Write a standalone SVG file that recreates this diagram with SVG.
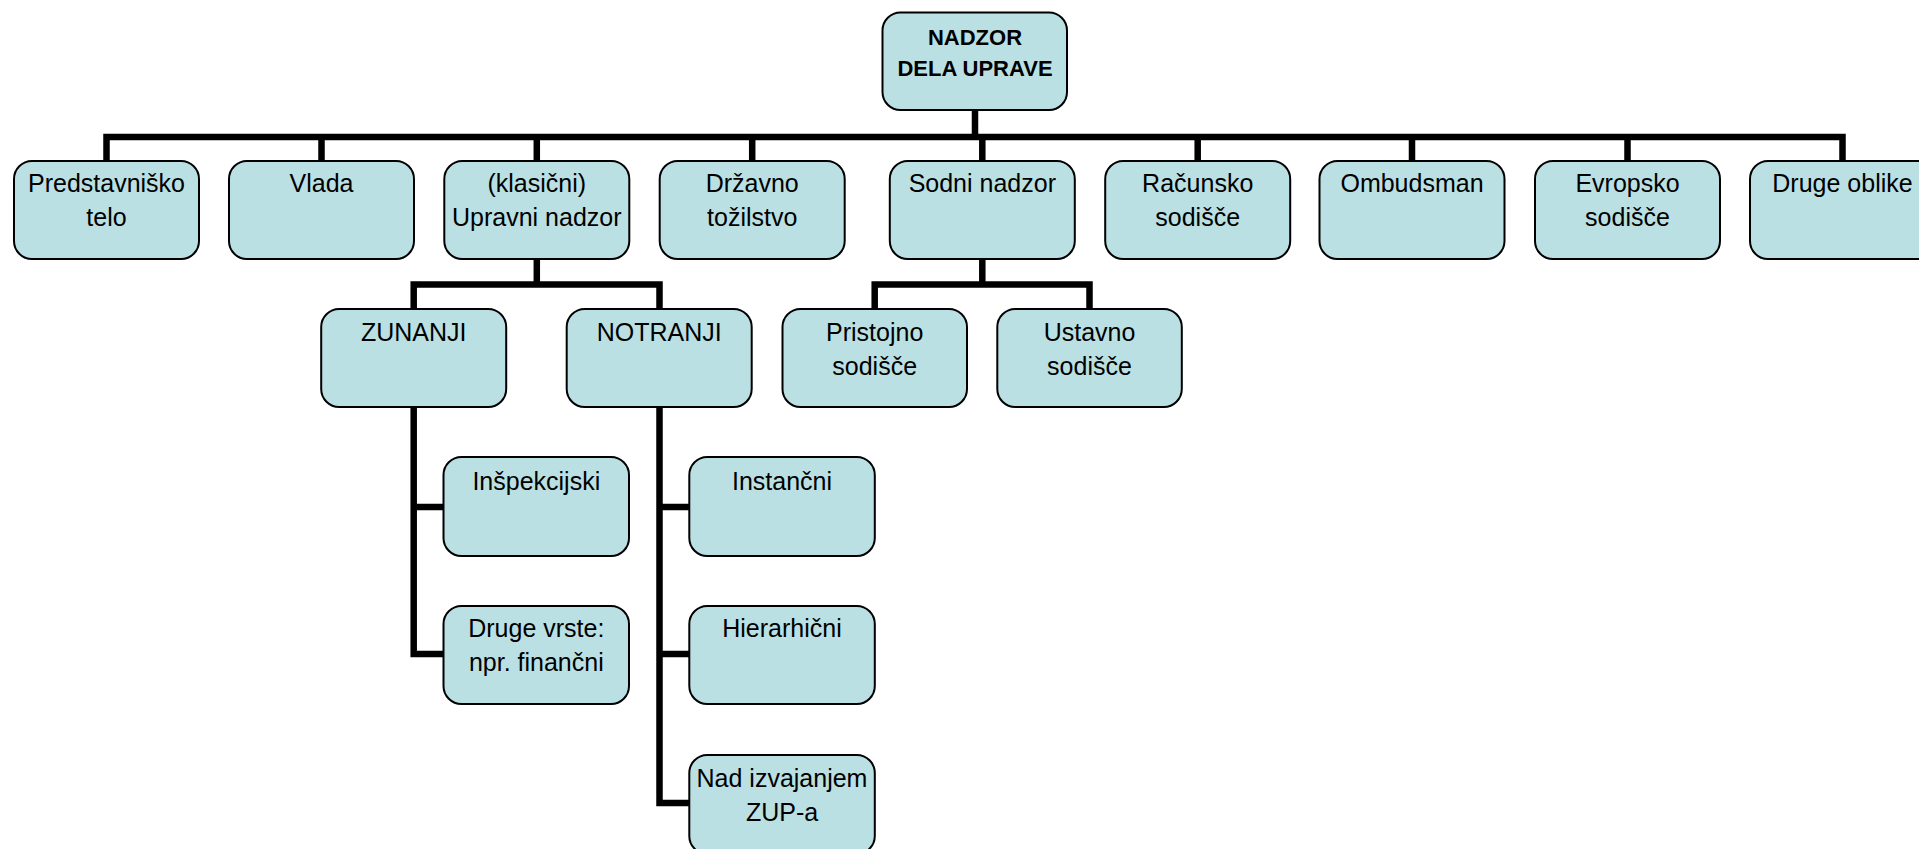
<svg xmlns="http://www.w3.org/2000/svg" width="1919" height="849" viewBox="0 0 1919 849">
<style>
.box{fill:#bbe0e3;stroke:#000;stroke-width:2}
.t{font-family:"Comic Sans MS","Liberation Sans",sans-serif;font-size:25px;fill:#000;text-anchor:middle}
.tb{font-family:"Comic Sans MS","Liberation Sans",sans-serif;font-size:22px;font-weight:bold;fill:#000;text-anchor:middle}
.c{fill:none;stroke:#000;stroke-width:6.5;stroke-linejoin:miter;stroke-linecap:butt}
</style>
<rect width="1919" height="849" fill="#fff"/>
<g id="connectors">
<path class="c" d="M975,110 V137"/>
<path class="c" d="M106.5,161 V137 H1842.5 V161"/>
<path class="c" d="M321.5,137 V161 M536.8,137 V161 M752.2,137 V161 M982.3,137 V161 M1197.7,137 V161 M1412,137 V161 M1627.5,137 V161"/>
<path class="c" d="M536.8,259 V284.5"/>
<path class="c" d="M413.7,309 V284.5 H659.5 V309"/>
<path class="c" d="M982.3,259 V284.5"/>
<path class="c" d="M874.7,309 V284.5 H1089.5 V309"/>
<path class="c" d="M413.7,407 V654 H443.5 M413.7,507 H443.5"/>
<path class="c" d="M659.5,407 V803 H689.3 M659.5,507 H689.3 M659.5,654 H689.3"/>
</g>
<g id="root"><rect class="box" x="882.5" y="12.5" width="184.5" height="97.5" rx="18"/><text class="tb" x="975" y="45">NADZOR</text><text class="tb" x="975" y="76">DELA UPRAVE</text></g>
<g id="predstavnisko"><rect class="box" x="14" y="161" width="185" height="98" rx="18"/><text class="t" x="106.5" y="192">Predstavniško</text><text class="t" x="106.5" y="226">telo</text></g>
<g id="vlada"><rect class="box" x="229" y="161" width="185" height="98" rx="18"/><text class="t" x="321.5" y="192">Vlada</text></g>
<g id="klasicni"><rect class="box" x="444.3" y="161" width="185" height="98" rx="18"/><text class="t" x="536.8" y="192">(klasični)</text><text class="t" x="536.8" y="226">Upravni nadzor</text></g>
<g id="drzavno"><rect class="box" x="659.7" y="161" width="185" height="98" rx="18"/><text class="t" x="752.2" y="192">Državno</text><text class="t" x="752.2" y="226">tožilstvo</text></g>
<g id="sodni"><rect class="box" x="889.8" y="161" width="185" height="98" rx="18"/><text class="t" x="982.3" y="192">Sodni nadzor</text></g>
<g id="racunsko"><rect class="box" x="1105.2" y="161" width="185" height="98" rx="18"/><text class="t" x="1197.7" y="192">Računsko</text><text class="t" x="1197.7" y="226">sodišče</text></g>
<g id="ombudsman"><rect class="box" x="1319.5" y="161" width="185" height="98" rx="18"/><text class="t" x="1412" y="192">Ombudsman</text></g>
<g id="evropsko"><rect class="box" x="1535" y="161" width="185" height="98" rx="18"/><text class="t" x="1627.5" y="192">Evropsko</text><text class="t" x="1627.5" y="226">sodišče</text></g>
<g id="druge-oblike"><rect class="box" x="1750" y="161" width="185" height="98" rx="18"/><text class="t" x="1842.5" y="192">Druge oblike</text></g>
<g id="zunanji"><rect class="box" x="321.2" y="309" width="185" height="98" rx="18"/><text class="t" x="413.7" y="340.5">ZUNANJI</text></g>
<g id="notranji"><rect class="box" x="566.7" y="309" width="185" height="98" rx="18"/><text class="t" x="659.2" y="340.5">NOTRANJI</text></g>
<g id="pristojno"><rect class="box" x="782.5" y="309" width="184.5" height="98" rx="18"/><text class="t" x="874.7" y="341">Pristojno</text><text class="t" x="874.7" y="375">sodišče</text></g>
<g id="ustavno"><rect class="box" x="997.3" y="309" width="184.5" height="98" rx="18"/><text class="t" x="1089.5" y="341">Ustavno</text><text class="t" x="1089.5" y="375">sodišče</text></g>
<g id="inspekcijski"><rect class="box" x="443.5" y="457" width="185.5" height="99" rx="18"/><text class="t" x="536.3" y="490">Inšpekcijski</text></g>
<g id="druge-vrste"><rect class="box" x="443.5" y="606" width="185.5" height="98" rx="18"/><text class="t" x="536.3" y="637">Druge vrste:</text><text class="t" x="536.3" y="670.5">npr. finančni</text></g>
<g id="instancni"><rect class="box" x="689.3" y="457" width="185.5" height="99" rx="18"/><text class="t" x="782" y="490">Instančni</text></g>
<g id="hierarhicni"><rect class="box" x="689.3" y="606" width="185.5" height="98" rx="18"/><text class="t" x="782" y="637">Hierarhični</text></g>
<g id="nad-izvajanjem"><rect class="box" x="689.3" y="755" width="185.5" height="99" rx="18"/><text class="t" x="782" y="787">Nad izvajanjem</text><text class="t" x="782" y="820.5">ZUP-a</text></g>
</svg>
